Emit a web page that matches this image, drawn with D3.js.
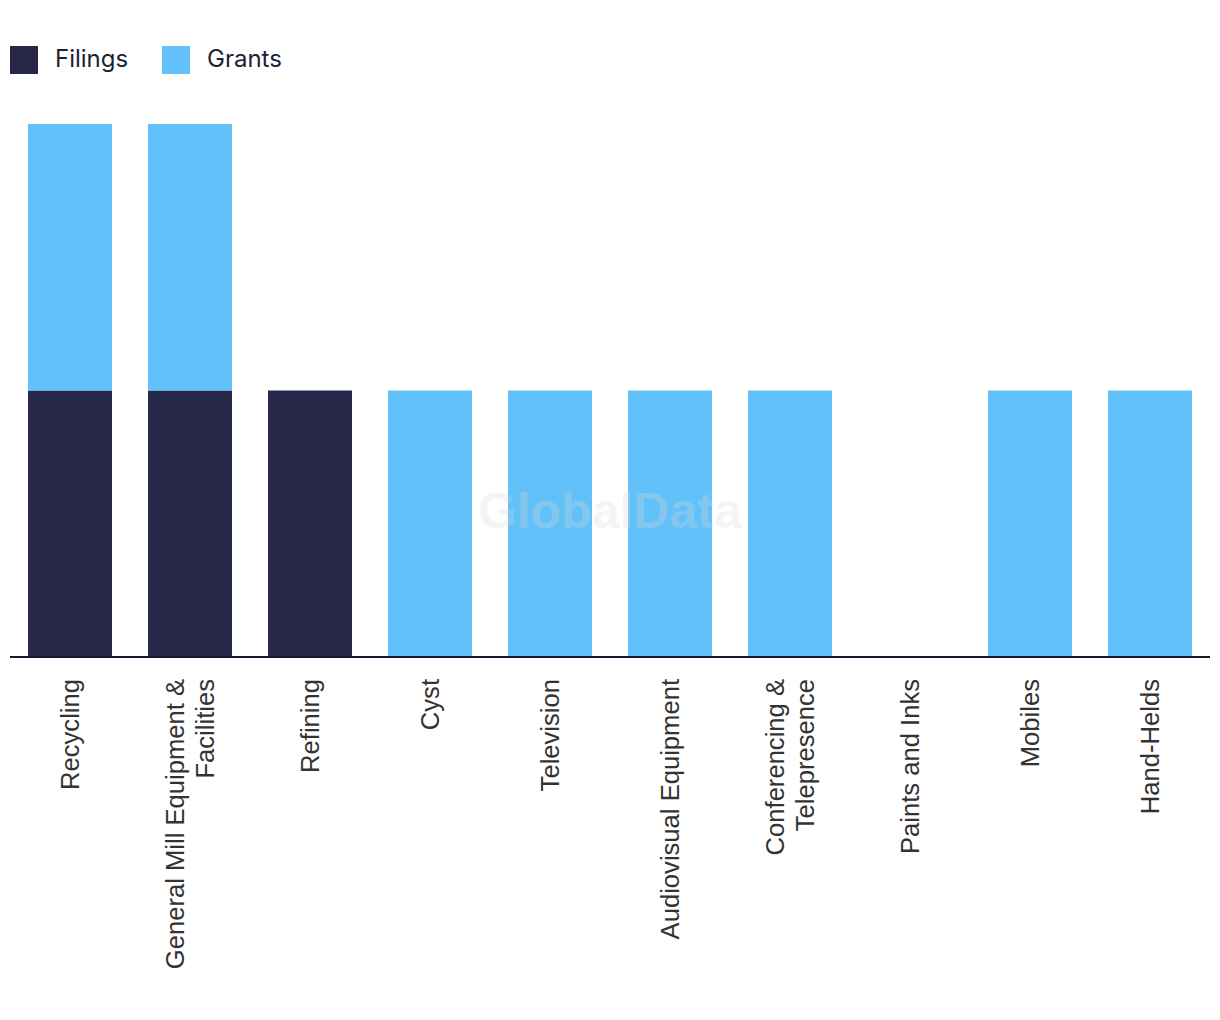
<!DOCTYPE html>
<html><head><meta charset="utf-8">
<script src="https://cdn.jsdelivr.net/npm/d3@7"></script>
<style>body{margin:0;background:#fff}svg{display:block}</style>
</head><body>
<svg id="chart" width="1220" height="1020"></svg>
<script>
const categories = [
  ["Recycling"],
  ["General Mill Equipment &", "Facilities"],
  ["Refining"],
  ["Cyst"],
  ["Television"],
  ["Audiovisual Equipment"],
  ["Conferencing &", "Telepresence"],
  ["Paints and Inks"],
  ["Mobiles"],
  ["Hand-Helds"]
];
const filings = [1, 1, 1, 0, 0, 0, 0, 0, 0, 0];
const grants  = [1, 1, 0, 1, 1, 1, 1, 0, 1, 1];
const seriesNames = ["Filings", "Grants"];
const colors = ["#27284a", "#63c1f9"];

const svg = d3.select("#chart");
const keys = categories.map(c => c.join(" "));
const rows = keys.map((k, i) => ({key: k, Filings: filings[i], Grants: grants[i]}));
const stack = d3.stack().keys(seriesNames)(rows);

const x = d3.scaleBand().domain(keys).range([10, 1210]).paddingInner(0.3).paddingOuter(0.15);
const y = d3.scaleLinear().domain([0, 2]).range([657, 124]);
const color = d3.scaleOrdinal().domain(seriesNames).range(colors);

svg.append("g").selectAll("g").data(stack).join("g")
  .attr("fill", d => color(d.key))
  .selectAll("rect").data(d => d).join("rect")
  .attr("x", d => x(d.data.key))
  .attr("width", x.bandwidth())
  .attr("y", d => y(d[1]))
  .attr("height", d => y(d[0]) - y(d[1]));

// watermark
svg.append("text").attr("x", 610).attr("y", 528).attr("text-anchor", "middle")
  .attr("font-family", "Liberation Sans, Arial, sans-serif").attr("font-weight", "bold")
  .attr("font-size", 50).attr("fill", "#d8d8d8").attr("fill-opacity", 0.28).text("GlobalData");

// x axis
const xAxis = d3.axisBottom(x).tickSize(0).tickFormat("");
const gx = svg.append("g").attr("transform", "translate(0,657)").call(xAxis);
gx.select(".domain").attr("stroke", "#141a2e").attr("stroke-width", 2).attr("d", "M10,0H1210");

const lh = 30;
const labels = svg.append("g");
categories.forEach((lines, i) => {
  const cx = x(keys[i]) + x.bandwidth() / 2;
  const n = lines.length;
  const t = labels.append("text")
    .attr("transform", `translate(${cx},679) rotate(-90)`)
    .attr("text-anchor", "end")
    .attr("font-family", "Liberation Sans, Arial, sans-serif")
    .attr("font-size", 25.6).attr("fill", "#333333");
  lines.forEach((l, j) => {
    t.append("tspan").attr("x", 0)
      .attr("y", (j - (n - 1) / 2) * lh + 9)
      .text(l);
  });
});

// legend
const legend = svg.append("g");
seriesNames.forEach((s, i) => {
  const lx = [10, 162][i];
  legend.append("rect").attr("x", lx).attr("y", 46).attr("width", 28).attr("height", 28).attr("fill", colors[i]);
  legend.append("text").attr("x", lx + 45).attr("y", 67)
    .attr("font-family", "Inter, sans-serif").attr("font-size", 24)
    .attr("fill", "#1c1f36").text(s);
});
</script>
</body></html>
